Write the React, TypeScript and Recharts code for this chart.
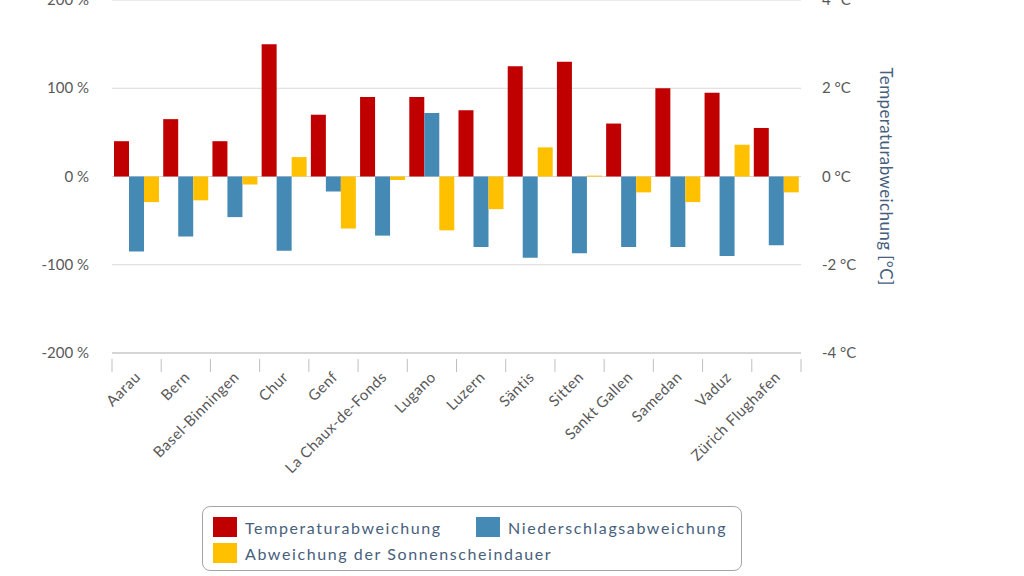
import React from "react";
import { BarChart, Bar, XAxis, YAxis, CartesianGrid, Legend } from "recharts";

const stations = [
  "Aarau",
  "Bern",
  "Basel-Binningen",
  "Chur",
  "Genf",
  "La Chaux-de-Fonds",
  "Lugano",
  "Luzern",
  "Säntis",
  "Sitten",
  "Sankt Gallen",
  "Samedan",
  "Vaduz",
  "Zürich Flughafen",
];

// °C, right axis
const temperature = [0.8, 1.3, 0.8, 3.0, 1.4, 1.8, 1.8, 1.5, 2.5, 2.6, 1.2, 2.0, 1.9, 1.1];
// %, left axis
const precipitation = [-85, -68, -46, -84, -17, -67, 72, -80, -92, -87, -80, -80, -90, -78];
const sunshine = [-29, -27, -9, 22, -59, -4, -61, -37, 33, 1, -18, -29, 36, -18];

const percentTicks = [-200, -100, 0, 100, 200];
const celsiusTicks = [-4, -2, 0, 2, 4];

const RED = "#C00000";
const BLUE = "#4589B5";
const YELLOW = "#FFC000";
const TICK_GREY = "#595959";
const SLATE = "#46607C";
const FONT = "Lato, 'Open Sans', sans-serif";

const data = stations.map((name, i) => ({
  name,
  temp: temperature[i],
  precip: precipitation[i],
  sun: sunshine[i],
}));

const legendItems = [
  { label: "Temperaturabweichung", color: RED },
  { label: "Niederschlagsabweichung", color: BLUE },
  { label: "Abweichung der Sonnenscheindauer", color: YELLOW },
];

const StationTick = (props: any) => {
  const { x, y, payload, index, visibleTicksCount } = props;
  const half = payload && payload.offset ? payload.offset : 24.6;
  const isLast = index === (visibleTicksCount ?? stations.length) - 1;
  const tx = x + 5;
  const ty = y + 17;
  return (
    <g>
      <line x1={x - half} y1={y - 2} x2={x - half} y2={y + 11} stroke="#bfbfbf" />
      {isLast && <line x1={x + half} y1={y - 2} x2={x + half} y2={y + 11} stroke="#bfbfbf" />}
      <text
        x={tx}
        y={ty}
        transform={`rotate(-45, ${tx}, ${ty})`}
        textAnchor="end"
        fontSize={15}
        letterSpacing={0.5}
        fontFamily={FONT}
        fill={TICK_GREY}
      >
        {payload.value}
      </text>
    </g>
  );
};

// use the unclamped scale position so the top label gets cut by the edge like the original
const makeValueTick = (suffix: string, anchor: "start" | "end") => (props: any) => {
  const { x, y, payload } = props;
  const cy = payload && typeof payload.coordinate === "number" ? payload.coordinate : y;
  return (
    <text
      x={x}
      y={cy}
      dy={5}
      textAnchor={anchor}
      fontSize={15}
      fontFamily={FONT}
      fill={TICK_GREY}
    >
      {`${payload.value} ${suffix}`}
    </text>
  );
};

const PercentTick = makeValueTick("%", "end");
const CelsiusTick = makeValueTick("°C", "start");

const TempAxisLabel = (props: any) => {
  const vb = props.viewBox || { x: 801, y: 0, width: 223, height: 353 };
  const cx = vb.x + 85;
  const cy = vb.y + vb.height / 2;
  return (
    <text
      x={cx}
      y={cy}
      transform={`rotate(90, ${cx}, ${cy})`}
      textAnchor="middle"
      dominantBaseline="central"
      fontSize={17}
      letterSpacing={0.4}
      fontFamily={FONT}
      fill={SLATE}
    >
      Temperaturabweichung [°C]
    </text>
  );
};

const LegendBox = () => (
  <div
    style={{
      boxSizing: "border-box",
      width: 540,
      height: 65,
      border: "1px solid #a6a6a6",
      borderRadius: 8,
      background: "#fff",
      fontFamily: FONT,
      fontSize: 16,
      letterSpacing: 1.6,
      color: SLATE,
      position: "relative",
    }}
  >
    {legendItems.map((item, i) => {
      const left = i === 1 ? 273 : 10;
      const top = i === 2 ? 36 : 10;
      return (
        <div
          key={item.label}
          style={{ position: "absolute", left, top, display: "flex", alignItems: "center", whiteSpace: "nowrap" }}
        >
          <span style={{ display: "inline-block", width: 24, height: 20, background: item.color, marginRight: 8 }} />
          <span>{item.label}</span>
        </div>
      );
    })}
  </div>
);

const App: React.FC = () => {
  return (
    <div style={{ position: "absolute", left: 0, top: 0, width: 1024, height: 576, background: "#fff" }}>
      <BarChart
        width={1024}
        height={576}
        data={data}
        margin={{ top: 0, right: 0, bottom: 0, left: 0 }}
        barCategoryGap={2}
        barGap={0}
      >
        <CartesianGrid horizontal vertical={false} stroke="#d9d9d9" yAxisId="left" />
        <XAxis
          dataKey="name"
          height={223}
          interval={0}
          tickLine={false}
          axisLine={{ stroke: "#bfbfbf" }}
          tick={<StationTick />}
        />
        <YAxis
          yAxisId="left"
          width={112}
          domain={[-200, 200]}
          ticks={percentTicks}
          axisLine={false}
          tickLine={false}
          tickSize={0}
          tickMargin={23}
          tick={<PercentTick />}
        />
        <YAxis
          yAxisId="right"
          orientation="right"
          width={223}
          domain={[-4, 4]}
          ticks={celsiusTicks}
          axisLine={false}
          tickLine={false}
          tickSize={0}
          tickMargin={21}
          tick={<CelsiusTick />}
          label={<TempAxisLabel />}
        />
        <Bar yAxisId="right" dataKey="temp" name="Temperaturabweichung" fill={RED} isAnimationActive={false} />
        <Bar yAxisId="left" dataKey="precip" name="Niederschlagsabweichung" fill={BLUE} isAnimationActive={false} />
        <Bar yAxisId="left" dataKey="sun" name="Abweichung der Sonnenscheindauer" fill={YELLOW} isAnimationActive={false} />
        <Legend
          layout="horizontal"
          verticalAlign="middle"
          align="center"
          content={<LegendBox />}
          wrapperStyle={{ left: 202, top: 506, width: 540, height: 65 }}
        />
      </BarChart>
    </div>
  );
};

export default App;
